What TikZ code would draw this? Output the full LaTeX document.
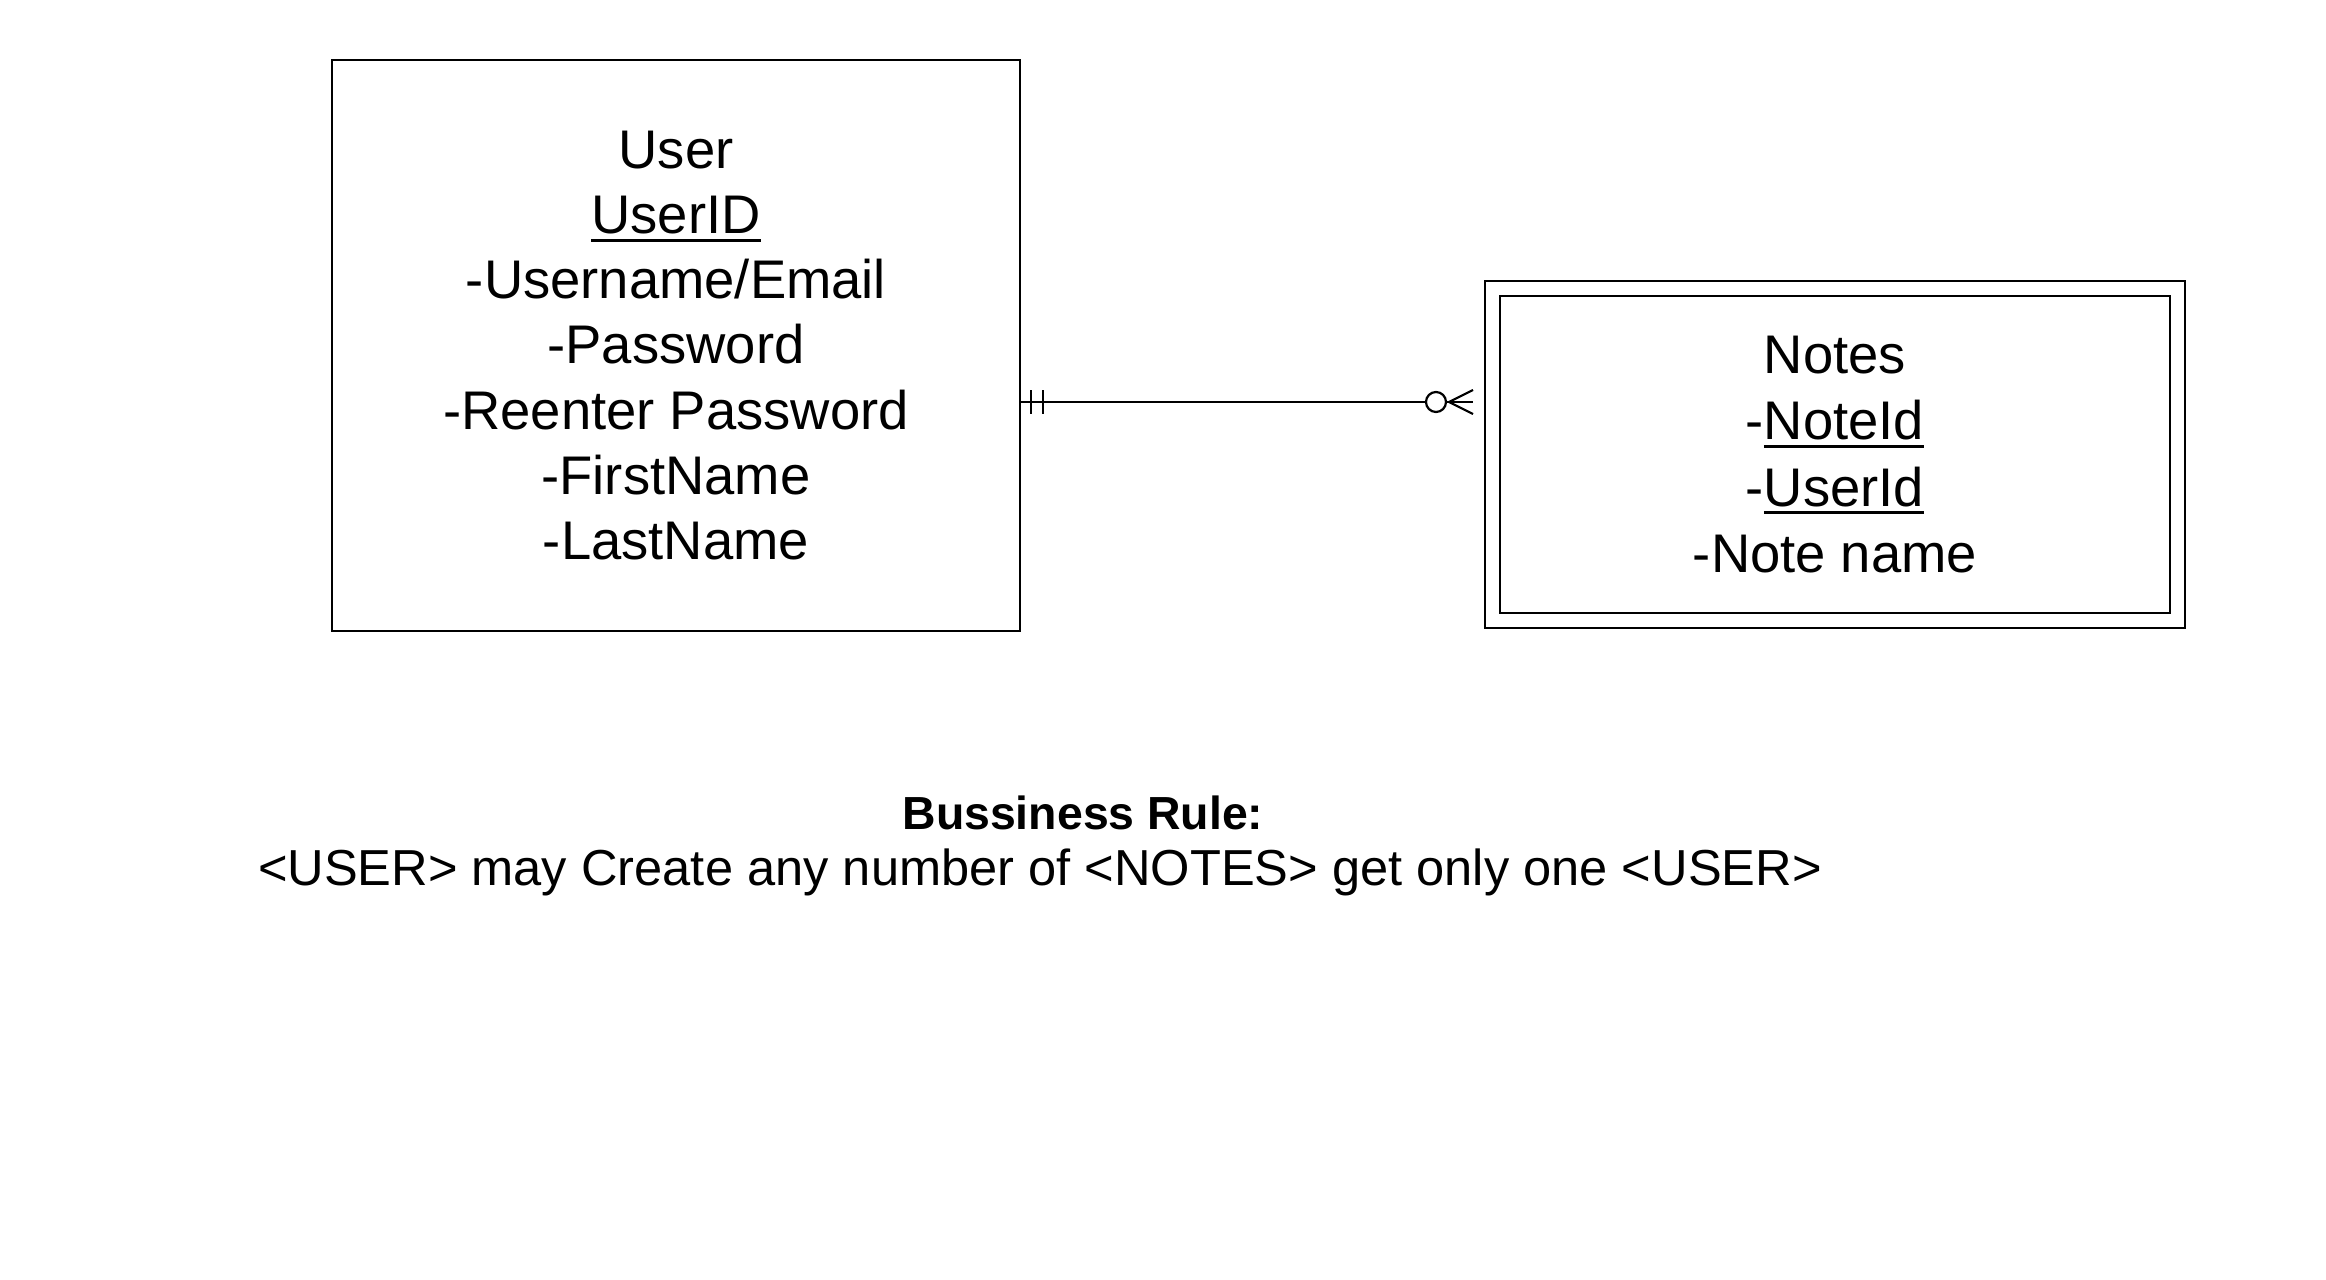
\documentclass[tikz,border=0pt]{standalone}
\usepackage{fontspec}
\setmainfont{Liberation Sans}
\usetikzlibrary{calc,positioning}
\newcommand{\keyattr}[1]{\setbox0\hbox{#1}\rlap{\rule[-4pt]{\wd0}{1.5pt}}\box0}

\begin{document}
\begin{tikzpicture}[x=0.5pt,y=-0.5pt,
  every node/.style={align=center,inner sep=0pt,outer sep=0pt},
  entity/.style={draw,line width=1.3pt,minimum width=344pt,minimum height=285.5pt,font=\fontsize{27.2}{32.6}\selectfont},
  weakentity/.style={entity,double,double distance=6.2pt,minimum width=342.5pt,minimum height=166pt,font=\fontsize{27.2}{33.2}\selectfont},
  relation/.style={line width=1.1pt}]
\useasboundingbox (0,0) rectangle (2326,1280);
\node [entity] (User) at (676,345.5) {User\\\keyattr{UserID}\\-Username/Email\\-Password\\-Reenter Password\\-FirstName\\-LastName};
\node [weakentity] (Notes) at (1835,454.5) {Notes\\-\keyattr{NoteId}\\-\keyattr{UserId}\\-Note name};
\coordinate (RelLevel) at (0,402);
\node [draw,circle,line width=1.1pt,minimum size=10pt] (ZeroMark) at ($(Notes.west |- RelLevel)+(-56.5,0)$) {};
\draw [relation] (User.east |- RelLevel) -- (ZeroMark);
\foreach \dx in {11,23}
  \draw [relation] ($(User.east |- RelLevel)+(\dx,-12)$) -- ++(0,24);
\draw [relation] (ZeroMark.east) -- ($(ZeroMark.center)+(37,0)$);
\draw [relation] ($(ZeroMark.center)+(37,-12)$) -- ($(ZeroMark.center)+(13,0)$) -- ($(ZeroMark.center)+(37,12)$);
\node [font=\fontsize{23.2}{28}\selectfont\bfseries,anchor=base] (BusinessRuleTitle) at (1083,829.5) {Bussiness Rule:};
\node [font=\fontsize{25.3}{30}\selectfont,anchor=base west] (BusinessRuleText) at (258,885) {<USER> may Create any number of <NOTES> get only one <USER>};
\end{tikzpicture}
\end{document}
